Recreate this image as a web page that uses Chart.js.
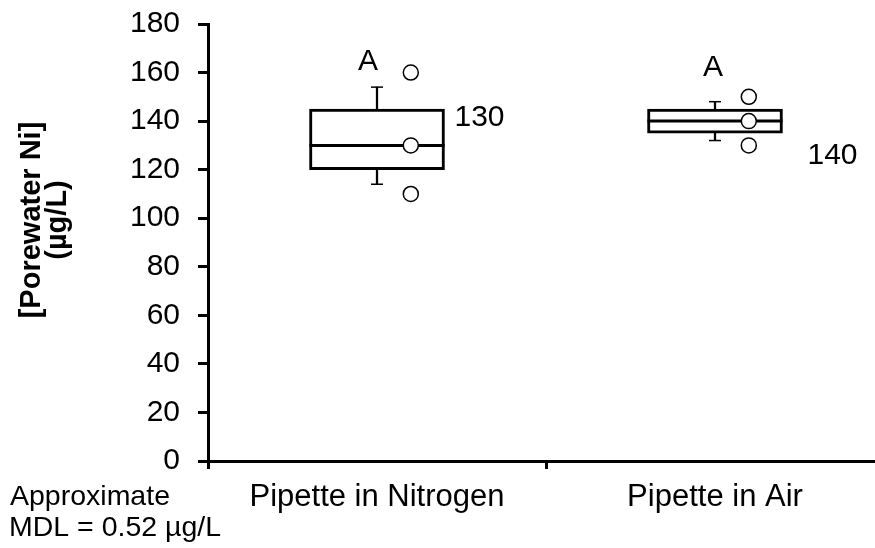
<!DOCTYPE html>
<html>
<head>
<meta charset="utf-8">
<title>Porewater Ni</title>
<script src="https://cdn.jsdelivr.net/npm/chart.js@4.4.0/dist/chart.umd.min.js"></script>
<style>
  html, body { margin: 0; padding: 0; overflow: hidden; background: #fff; }
  #wrap { width: 884px; height: 548px; }
</style>
</head>
<body>
<div id="wrap"><canvas id="niChart" width="884" height="548"></canvas></div>
<script>
// sampling method groups
var groups = ['Pipette in Nitrogen', 'Pipette in Air'];
// box: 25th / 75th percentile, median, whisker ends (µg/L)
var boxLow = [120, 135];
var boxHigh = [145, 145];
var medians = [130, 140];
var whiskerLow = [114, 132];
var whiskerHigh = [154, 148];
// individual replicates per group
var replicates = [[160, 130, 110], [150, 140, 130]];
// significance letters
var groupLetters = ['A', 'A'];
var yTicks = [0, 20, 40, 60, 80, 100, 120, 140, 160, 180];

var FONT = '"Liberation Sans", Arial, sans-serif';
var BOX_WIDTH = 135;        // px
var POINT_SHIFT = 0.1;      // replicate markers sit right of the box centre
var valueLabelShift = [[10, -28], [25, 35]];   // px from box right edge / median
var letterShift = [[-9, -25], [-2, -34]];      // px from box centre / whisker top

var boxData = [], medianData = [], whiskerData = [], capData = [], pointData = [];
groups.forEach(function (g, i) {
    boxData.push({ x: i, y: [boxLow[i], boxHigh[i]] });
    medianData.push({ x: i, y: medians[i] });
    whiskerData.push({ x: i, y: [whiskerLow[i], whiskerHigh[i]] });
    capData.push({ x: i, y: whiskerLow[i] }, { x: i, y: whiskerHigh[i] });
    replicates[i].forEach(function (v) {
        pointData.push({ x: i + POINT_SHIFT, y: v });
    });
});

var textPlugin = {
    id: 'boxText',
    afterDatasetsDraw: function (chart) {
        var ctx = chart.ctx;
        var xs = chart.scales.x;
        var ys = chart.scales.y;
        ctx.save();
        ctx.fillStyle = '#000';
        ctx.textBaseline = 'middle';
        ctx.font = '30px ' + FONT;
        groups.forEach(function (g, i) {
            var cx = xs.getPixelForValue(i);
            ctx.textAlign = 'left';
            ctx.fillText(String(medians[i]), cx + BOX_WIDTH / 2 + valueLabelShift[i][0],
                ys.getPixelForValue(medians[i]) + valueLabelShift[i][1]);
            ctx.textAlign = 'center';
            ctx.fillText(groupLetters[i], cx + letterShift[i][0],
                ys.getPixelForValue(whiskerHigh[i]) + letterShift[i][1]);
        });

        // y axis title, two lines rotated
        ctx.font = 'bold 29px ' + FONT;
        ctx.textAlign = 'center';
        ctx.save();
        ctx.translate(32, 220);
        ctx.rotate(-Math.PI / 2);
        ctx.fillText('[Porewater Ni]', 0, 0);
        ctx.restore();
        ctx.save();
        ctx.translate(58, 220);
        ctx.rotate(-Math.PI / 2);
        ctx.fillText('(µg/L)', 0, 0);
        ctx.restore();

        // detection limit note
        ctx.font = '28.5px ' + FONT;
        ctx.textAlign = 'left';
        ctx.textBaseline = 'alphabetic';
        ctx.fillText('Approximate', 10, 505);
        ctx.fillText('MDL = 0.52 µg/L', 9, 536);
        ctx.restore();
    }
};

var axisLine = { color: '#000', width: 3 };

new Chart(document.getElementById('niChart').getContext('2d'), {
    data: {
        datasets: [{
            type: 'line',
            data: pointData,
            showLine: false,
            pointStyle: 'circle',
            pointRadius: 7.5,
            pointBackgroundColor: '#fff',
            pointBorderColor: '#000',
            pointBorderWidth: 1.5,
            order: 0
        }, {
            type: 'line',
            data: medianData,
            showLine: false,
            pointStyle: 'line',
            pointRadius: BOX_WIDTH / 2,
            pointBorderColor: '#000',
            pointBorderWidth: 3,
            order: 1
        }, {
            type: 'line',
            data: capData,
            showLine: false,
            pointStyle: 'line',
            pointRadius: 6,
            pointBorderColor: '#000',
            pointBorderWidth: 1.5,
            order: 1
        }, {
            type: 'bar',
            data: boxData,
            grouped: false,
            barThickness: BOX_WIDTH,
            backgroundColor: '#fff',
            borderColor: '#000',
            borderWidth: 3,
            borderSkipped: false,
            order: 2
        }, {
            type: 'bar',
            data: whiskerData,
            grouped: false,
            barThickness: 1.6,
            backgroundColor: '#000',
            borderWidth: 0,
            order: 3
        }]
    },
    options: {
        responsive: false,
        animation: false,
        layout: {
            autoPadding: false,
            padding: 0
        },
        plugins: {
            legend: { display: false },
            tooltip: { enabled: false }
        },
        scales: {
            x: {
                type: 'linear',
                display: false,
                offset: false,
                min: -0.5,
                max: 1.5
            },
            xCat: {
                type: 'category',
                position: 'bottom',
                labels: groups,
                offset: true,
                grid: {
                    offset: true,
                    drawOnChartArea: false,
                    drawTicks: true,
                    tickLength: 8,
                    tickWidth: 3,
                    tickColor: '#000',
                    color: '#000'
                },
                border: axisLine,
                ticks: {
                    color: '#000',
                    padding: 10,
                    font: { family: FONT, size: 31 },
                    maxRotation: 0
                },
                afterFit: function (scale) { scale.height = 87; }
            },
            y: {
                type: 'linear',
                min: yTicks[0],
                max: yTicks[yTicks.length - 1],
                afterBuildTicks: function (scale) {
                    scale.ticks = yTicks.map(function (v) { return { value: v }; });
                },
                grid: {
                    drawOnChartArea: false,
                    drawTicks: true,
                    tickLength: 10,
                    tickWidth: 3,
                    tickColor: '#000',
                    color: '#000'
                },
                border: axisLine,
                ticks: {
                    color: '#000',
                    padding: 18,
                    font: { family: FONT, size: 30 }
                },
                afterFit: function (scale) {
                    scale.width = 208;
                    scale.paddingTop = 24;
                    scale.paddingBottom = 0;
                }
            }
        }
    },
    plugins: [textPlugin]
});
</script>
</body>
</html>
